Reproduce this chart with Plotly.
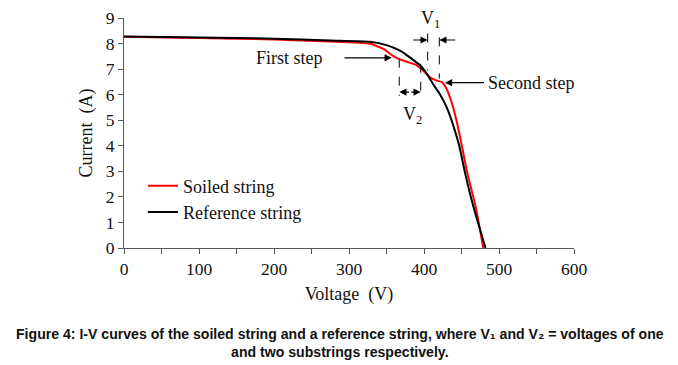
import plotly.graph_objects as go

# Data
ref_voltage = [0, 100, 200, 275, 328, 350, 368, 381, 395, 404, 412, 421, 430, 439, 447, 455, 466, 482]
ref_current = [8.28, 8.24, 8.19, 8.12, 8.07, 7.94, 7.72, 7.46, 7.14, 6.81, 6.42, 6.03, 5.52, 4.80, 4.00, 2.90, 1.60, 0.0]

soiled_voltage = [0, 100, 200, 275, 328, 346, 357, 366, 377, 390, 399, 408, 417, 424, 430, 436, 442, 447, 458, 469, 479]
soiled_current = [8.27, 8.22, 8.16, 8.08, 7.99, 7.79, 7.55, 7.40, 7.29, 7.16, 6.94, 6.68, 6.55, 6.49, 6.23, 5.77, 5.15, 4.50, 2.90, 1.60, 0.0]

x_ticks = [0, 100, 200, 300, 400, 500, 600]
y_ticks = [0, 1, 2, 3, 4, 5, 6, 7, 8, 9]

SERIF = "Liberation Serif, Times New Roman, serif"
AX = "#595959"
TXT = "#111111"

# page body has an 8px default margin; offset all layout positions by it
OFF = 8
W, H = 678 - OFF, 365 - OFF
PL, PR = 124 - OFF, 574 - OFF        # plot area left/right (px)
PT, PB = 17.5 - OFF, 247.7 - OFF     # plot area top/bottom (px)

fig = go.Figure()
fig.add_trace(go.Scatter(x=soiled_voltage, y=soiled_current, mode="lines",
                         line=dict(color="#ff0000", width=2, shape="spline", smoothing=0.5),
                         name="Soiled string"))
fig.add_trace(go.Scatter(x=ref_voltage, y=ref_current, mode="lines",
                         line=dict(color="#000000", width=2, shape="spline", smoothing=0.5),
                         name="Reference string"))

fig.update_layout(
    width=W, height=H,
    margin=dict(l=PL, r=W - PR, t=PT, b=H - PB, autoexpand=False),
    paper_bgcolor="white", plot_bgcolor="white",
    font=dict(family=SERIF, size=17, color=TXT),
    showlegend=True,
    legend=dict(x=0.042, y=0.35, xanchor="left", yanchor="top",
                bgcolor="rgba(0,0,0,0)", font=dict(family=SERIF, size=18, color=TXT),
                itemwidth=30, tracegroupgap=0),
    xaxis=dict(range=[0, 600], tickvals=x_ticks, ticks="outside", ticklen=5, tickcolor=AX,
               showline=True, linecolor=AX, linewidth=1.2, showgrid=False, zeroline=False,
               minor=dict(dtick=50, ticks="outside", ticklen=5, tickcolor=AX),
               title=dict(text="Voltage  (V)", standoff=9, font=dict(size=18)),
               tickfont=dict(size=17.5)),
    yaxis=dict(range=[0, 9], tickvals=y_ticks, ticks="outside", ticklen=5, tickcolor=AX,
               showline=True, linecolor=AX, linewidth=1.2, showgrid=False, zeroline=False,
               title=dict(text="Current  (A)", standoff=8, font=dict(size=18)),
               tickfont=dict(size=17.5)),
)

# Dashed markers for V1 and V2
dash = dict(color="black", width=1, dash="dash")
fig.add_shape(type="line", x0=404.9, x1=404.9, y0=8.39, y1=6.94, line=dash)
fig.add_shape(type="line", x0=420.4, x1=420.4, y0=8.24, y1=6.63, line=dash)
fig.add_shape(type="line", x0=367, x1=367, y0=7.41, y1=5.96, line=dash)
fig.add_shape(type="line", x0=395.6, x1=395.6, y0=7.21, y1=5.9, line=dash)

def arrow(x, y, ax, ay):
    fig.add_annotation(x=x, y=y, ax=ax, ay=ay, xref="x", yref="y", axref="x", ayref="y",
                       text="", showarrow=True, arrowhead=2, arrowsize=1.2, arrowwidth=1.2,
                       arrowcolor="black", standoff=0)

# V1 arrows
arrow(404.9, 8.14, 383.6, 8.14)
arrow(420.4, 8.14, 443.6, 8.14)
# V2 double arrow
arrow(395.6, 6.10, 381, 6.10)
arrow(367, 6.10, 382, 6.10)
# First step / Second step
arrow(357, 7.44, 292, 7.44)
arrow(428, 6.47, 482, 6.47)

fig.add_annotation(x=221, y=7.44, xref="x", yref="y", text="First step", showarrow=False,
                   font=dict(family=SERIF, size=18, color=TXT))
fig.add_annotation(x=483, y=6.47, xref="x", yref="y", text="Second step", showarrow=False,
                   xanchor="left", font=dict(family=SERIF, size=18, color=TXT))
fig.add_annotation(x=408.5, y=8.95, xref="x", yref="y", text="V<sub>1</sub>", showarrow=False,
                   font=dict(family=SERIF, size=18, color=TXT))
fig.add_annotation(x=384, y=5.2, xref="x", yref="y", text="V<sub>2</sub>", showarrow=False,
                   font=dict(family=SERIF, size=18, color=TXT))

# Caption (positions converted from reference pixels to paper coordinates)
fig.add_annotation(x=(339.5 - 124) / 450, y=(247.7 - 343) / 230.2, xref="paper", yref="paper",
                   xanchor="center", yanchor="middle",
                   text="<b>Figure 4: I-V curves of the soiled string and a reference string, where V\u2081 and V\u2082 = voltages of one</b><br><b>and two substrings respectively.</b>",
                   showarrow=False, align="center",
                   font=dict(family="Liberation Sans, Arial, sans-serif", size=14.1, color=TXT))

fig.write_html("out.html")
